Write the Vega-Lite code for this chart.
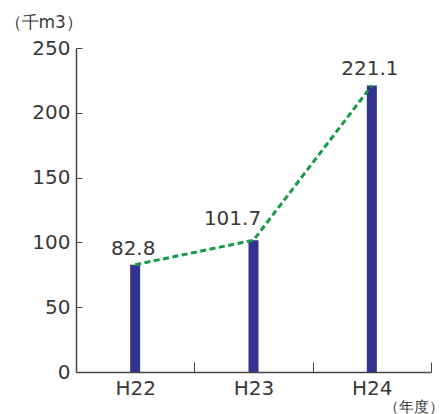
{
  "$schema": "https://vega.github.io/schema/vega-lite/v6.json",
  "width": 355,
  "height": 324,
  "autosize": {"type": "none"},
  "padding": {"left": 76, "top": 48, "right": 15, "bottom": 42},
  "background": "white",
  "config": {
    "view": {"stroke": null},
    "font": "DejaVu Sans",
    "axis": {
      "domainColor": "#4a4242",
      "tickColor": "#4a4242",
      "labelColor": "#383838",
      "titleColor": "#383838",
      "labelFont": "DejaVu Sans",
      "titleFont": "DejaVu Sans",
      "titleFontWeight": "normal",
      "grid": false
    }
  },
  "data": {
    "values": [
      {"year": "H22", "volume": 82.8},
      {"year": "H23", "volume": 101.7},
      {"year": "H24", "volume": 221.1}
    ]
  },
  "encoding": {
    "x": {
      "field": "year",
      "type": "nominal",
      "scale": {"paddingInner": 0, "paddingOuter": 0},
      "axis": {
        "title": "（年度）",
        "titleFontSize": 15,
        "titleAlign": "right",
        "titleAnchor": "end",
        "titleX": 367,
        "titleY": 39,
        "titleBaseline": "alphabetic",
        "labelAngle": 0,
        "labelFontSize": 20,
        "labelPadding": 16,
        "tickBand": "extent",
        "tickSize": -10,
        "domainWidth": 1.5,
        "tickWidth": 1
      }
    },
    "y": {
      "field": "volume",
      "type": "quantitative",
      "scale": {"domain": [0, 250], "nice": false},
      "axis": {
        "title": "（千m3）",
        "titleAngle": 0,
        "titleAlign": "left",
        "titleX": -72,
        "titleY": -21,
        "titleBaseline": "alphabetic",
        "titleFontSize": 17,
        "values": [0, 50, 100, 150, 200, 250],
        "labelFontSize": 20,
        "labelPadding": 12,
        "tickSize": -6,
        "domainWidth": 1.5,
        "tickWidth": 1
      }
    }
  },
  "layer": [
    {
      "mark": {"type": "bar", "size": 10, "color": "#33338f"}
    },
    {
      "mark": {
        "type": "line",
        "color": "#169b46",
        "strokeWidth": 3,
        "strokeDash": [6, 3.5]
      }
    },
    {
      "transform": [{"filter": "datum.year !== 'H23'"}],
      "mark": {
        "type": "text",
        "fontSize": 20,
        "color": "#383838",
        "baseline": "alphabetic",
        "dx": -2,
        "dy": -10
      },
      "encoding": {"text": {"field": "volume", "type": "quantitative", "format": ".1f"}}
    },
    {
      "transform": [{"filter": "datum.year === 'H23'"}],
      "mark": {
        "type": "text",
        "fontSize": 20,
        "color": "#383838",
        "baseline": "alphabetic",
        "dx": -21,
        "dy": -15
      },
      "encoding": {"text": {"field": "volume", "type": "quantitative", "format": ".1f"}}
    }
  ]
}
